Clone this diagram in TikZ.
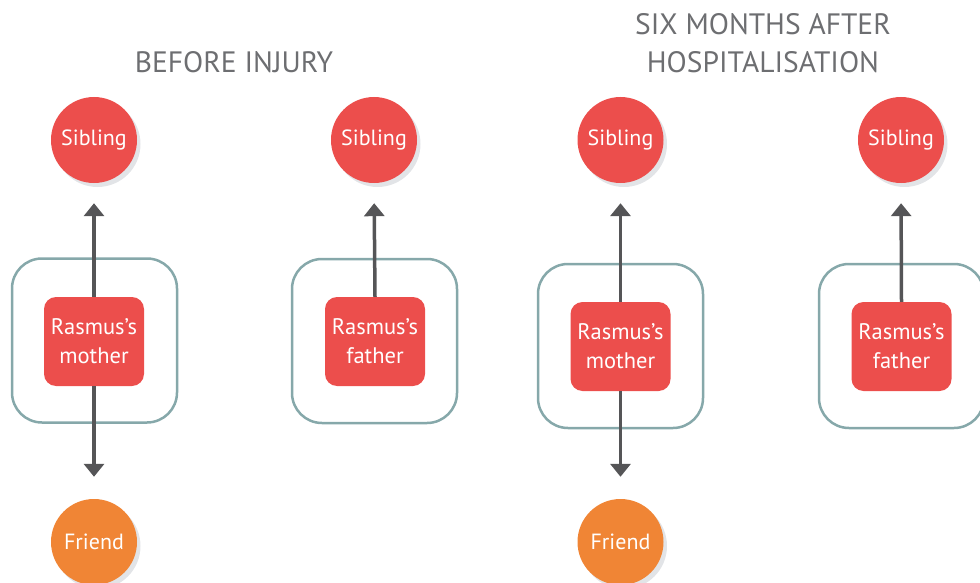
\documentclass[tikz,border=0pt]{standalone}
\usepackage{fontspec}
\setmainfont{PT Sans}
\usetikzlibrary{arrows.meta,shadows}
\definecolor{nodered}{HTML}{EC4E4C}
\definecolor{nodeorange}{HTML}{F08535}
\definecolor{framecol}{HTML}{86A8AA}
\definecolor{linkcol}{HTML}{555557}
\definecolor{titlecol}{HTML}{6D6E71}
\definecolor{shadowcol}{HTML}{E2E4E7}
\begin{document}
\begin{tikzpicture}[x=1pt,y=-1pt,
  person/.style={circle,fill=#1,text=white,minimum size=86pt,inner sep=0pt,
    font=\fontsize{22}{26}\selectfont,
    drop shadow={shadow xshift=3.5pt,shadow yshift=-4pt,fill=shadowcol,opacity=1}},
  parent/.style={rectangle,rounded corners=12pt,fill=nodered,text=white,
    minimum width=100pt,minimum height=89pt,inner sep=0pt,align=center,
    font=\fontsize{22.5}{29}\selectfont},
  frame/.style={rectangle,rounded corners=30pt,draw=framecol,line width=2.5pt,
    minimum width=165pt,minimum height=164pt},
  title/.style={text=titlecol,align=center,font=\fontsize{29.5}{38}\selectfont},
  link/.style={draw=linkcol,line width=3.5pt,
    -{Triangle[width=20pt,length=13pt]}}]
\useasboundingbox (0,0) rectangle (980,583);

% headings
\node[title] (t1) at (234,62) {BEFORE INJURY};
\node[title] (t2) at (763,43) {SIX MONTHS AFTER\\HOSPITALISATION};

% before injury: mother
\node[frame] (f1) at (94.5,340.5) {};
\node[parent] (m1) at (94,341.5) {Rasmus’s\\mother};
\node[person=nodered] (s1) at (94,140) {Sibling};
\node[person=nodeorange] (fr1) at (94,542) {Friend};
\draw[link,shorten >=20pt] (m1.north) -- (s1.south);
\draw[link,shorten >=22pt] (m1.south) -- (fr1.north);

% before injury: father
\node[frame] (f2) at (374.5,341) {};
\node[parent] (d2) at (375,341.5) {Rasmus’s\\father};
\node[person=nodered] (s2) at (374,140) {Sibling};
\draw[link,shorten >=20pt] (d2.north) -- (s2.south);

% six months after: mother
\node[frame] (f3) at (620.5,346) {};
\node[parent] (m3) at (620.5,346.5) {Rasmus’s\\mother};
\node[person=nodered] (s3) at (620.5,140) {Sibling};
\node[person=nodeorange] (fr3) at (620.5,542) {Friend};
\draw[link,shorten >=20pt] (m3.north) -- (s3.south);
\draw[link,shorten >=22pt] (m3.south) -- (fr3.north);

% six months after: father
\node[frame] (f4) at (901.5,346) {};
\node[parent] (d4) at (901.5,346.5) {Rasmus’s\\father};
\node[person=nodered] (s4) at (901,140) {Sibling};
\draw[link,shorten >=20pt] (d4.north) -- (s4.south);
\end{tikzpicture}
\end{document}
